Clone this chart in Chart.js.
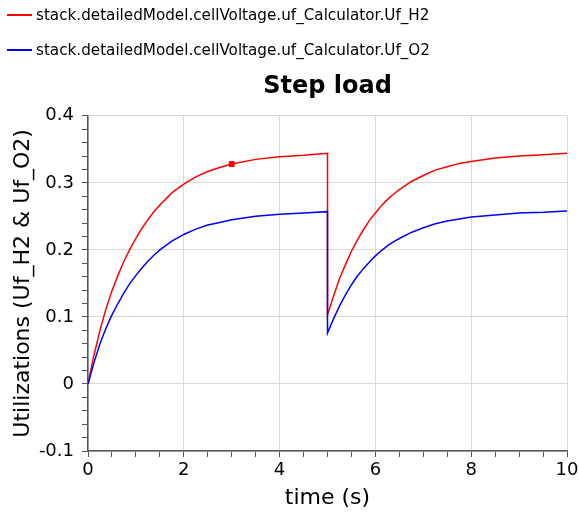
<!DOCTYPE html>
<html>
<head>
<meta charset="utf-8">
<script src="https://cdn.jsdelivr.net/npm/chart.js@4/dist/chart.umd.min.js"></script>
<style>
  body { margin: 0; background: #fff; }
  #wrap { position: relative; width: 579px; height: 516px; }
  #chart { position: absolute; left: 0; top: 0; }
  .leg { position: absolute; left: 0; height: 20px; font: 15.2px "DejaVu Sans", sans-serif; color: #000; white-space: nowrap; }
  .leg .sw { position: absolute; left: 7px; top: 9px; width: 25px; height: 2px; }
  .leg .tx { position: absolute; left: 36px; top: 0; line-height: 20px; }
</style>
</head>
<body>
<div id="wrap">
  <canvas id="chart" width="579" height="516"></canvas>
  <div id="legend"></div>
</div>
<script>
const seriesNames = [
  "stack.detailedModel.cellVoltage.uf_Calculator.Uf_H2",
  "stack.detailedModel.cellVoltage.uf_Calculator.Uf_O2",
];
const seriesColors = ["#ff0000", "#0000ff"];

// time (s), with the load step at t = 5 repeated
const timeS = [
  0, 0.125, 0.25, 0.375, 0.5, 0.625, 0.75, 0.875, 1, 1.125, 1.25, 1.375, 1.5, 1.75,
  2, 2.25, 2.5, 2.75, 3, 3.5, 4, 4.5, 5,
  5, 5.125, 5.25, 5.375, 5.5, 5.625, 5.75, 5.875, 6, 6.125, 6.25, 6.375, 6.5, 6.75,
  7, 7.25, 7.5, 7.75, 8, 8.5, 9, 9.5, 10,
];
const ufH2 = [
  0, 0.043, 0.080, 0.112, 0.139, 0.162, 0.183, 0.201, 0.217, 0.232, 0.245, 0.257, 0.267, 0.285,
  0.298, 0.309, 0.317, 0.323, 0.328, 0.335, 0.339, 0.341, 0.344,
  0.103, 0.131, 0.157, 0.178, 0.198, 0.215, 0.230, 0.244, 0.255, 0.266, 0.275, 0.283, 0.290, 0.302,
  0.311, 0.319, 0.324, 0.329, 0.332, 0.337, 0.340, 0.342, 0.344,
];
const ufO2 = [
  0, 0.032, 0.060, 0.083, 0.103, 0.120, 0.136, 0.150, 0.162, 0.173, 0.183, 0.192, 0.200, 0.213,
  0.223, 0.231, 0.237, 0.241, 0.245, 0.250, 0.253, 0.255, 0.257,
  0.076, 0.097, 0.116, 0.133, 0.148, 0.161, 0.172, 0.182, 0.191, 0.199, 0.206, 0.212, 0.217, 0.226,
  0.233, 0.239, 0.243, 0.246, 0.249, 0.252, 0.255, 0.256, 0.258,
];
// cursor marker on the H2 curve
const markerT = [3];
const markerUf = [0.328];

const xTicks = [0, 2, 4, 6, 8, 10];
const yTicks = [-0.1, 0, 0.1, 0.2, 0.3, 0.4];

const toPoints = (xs, ys) => xs.map((x, i) => ({ x: x, y: ys[i] }));
const isMajor = (v, list) => list.some((t) => Math.abs(t - v) < 1e-6);

const legend = document.getElementById("legend");
seriesNames.forEach((name, i) => {
  const row = document.createElement("div");
  row.className = "leg";
  row.style.top = 5 + i * 35 + "px";
  row.innerHTML = '<div class="sw" style="background:' + seriesColors[i] + '"></div><div class="tx"></div>';
  row.querySelector(".tx").textContent = name;
  legend.appendChild(row);
});

const tickFont = { family: "DejaVu Sans", size: 18 };
const titleFont = { family: "DejaVu Sans", size: 22 };

new Chart(document.getElementById("chart"), {
  type: "line",
  data: {
    datasets: [
      {
        label: seriesNames[0],
        data: toPoints(timeS, ufH2),
        borderColor: seriesColors[0],
        borderWidth: 1.5,
        pointRadius: 0,
        tension: 0,
        order: 2,
      },
      {
        label: seriesNames[1],
        data: toPoints(timeS, ufO2),
        borderColor: seriesColors[1],
        borderWidth: 1.5,
        pointRadius: 0,
        tension: 0,
        order: 1,
      },
      {
        label: "marker",
        data: toPoints(markerT, markerUf),
        showLine: false,
        pointStyle: "rect",
        pointRadius: 3.5,
        backgroundColor: seriesColors[0],
        borderColor: seriesColors[0],
        order: 0,
      },
    ],
  },
  options: {
    responsive: false,
    animation: false,
    layout: { padding: { top: 72, right: 0, left: 0, bottom: 0 } },
    plugins: {
      legend: { display: false },
      tooltip: { enabled: false },
      title: {
        display: true,
        fullSize: false,
        text: "Step load",
        color: "#000",
        font: { family: "DejaVu Sans", size: 24, weight: "bold" },
        padding: { top: 0, bottom: 15 },
      },
    },
    scales: {
      x: {
        type: "linear",
        min: 0,
        max: 10,
        afterFit: (scale) => {
          scale.height = 65;
          scale.paddingRight = 12;
        },
        ticks: {
          stepSize: 0.5,
          autoSkip: false,
          maxRotation: 0,
          color: "#000",
          font: tickFont,
          padding: 3,
          callback: (v) => (isMajor(v, xTicks) ? String(Math.round(v)) : ""),
        },
        grid: {
          color: (ctx) => (ctx.tick && isMajor(ctx.tick.value, xTicks) ? "#d9d9d9" : "rgba(0,0,0,0)"),
          tickColor: "#555",
          tickLength: 6,
        },
        border: { color: "#555", width: 1.5 },
        title: {
          display: true,
          text: "time (s)",
          color: "#000",
          font: titleFont,
          padding: { top: 0, bottom: 5 },
        },
      },
      y: {
        min: -0.1,
        max: 0.4,
        afterFit: (scale) => { scale.width = 88; },
        ticks: {
          stepSize: 0.02,
          autoSkip: false,
          color: "#000",
          font: tickFont,
          padding: 8,
          callback: (v) => (isMajor(v, yTicks) ? String(Math.round(v * 10) / 10) : ""),
        },
        grid: {
          color: (ctx) => (ctx.tick && isMajor(ctx.tick.value, yTicks) ? "#d9d9d9" : "rgba(0,0,0,0)"),
          tickColor: "#555",
          tickLength: 6,
        },
        border: { color: "#555", width: 1.5 },
        title: {
          display: true,
          text: "Utilizations (Uf_H2 & Uf_O2)",
          color: "#000",
          font: titleFont,
          padding: { top: 10, bottom: 0 },
        },
      },
    },
  },
});
</script>
</body>
</html>
